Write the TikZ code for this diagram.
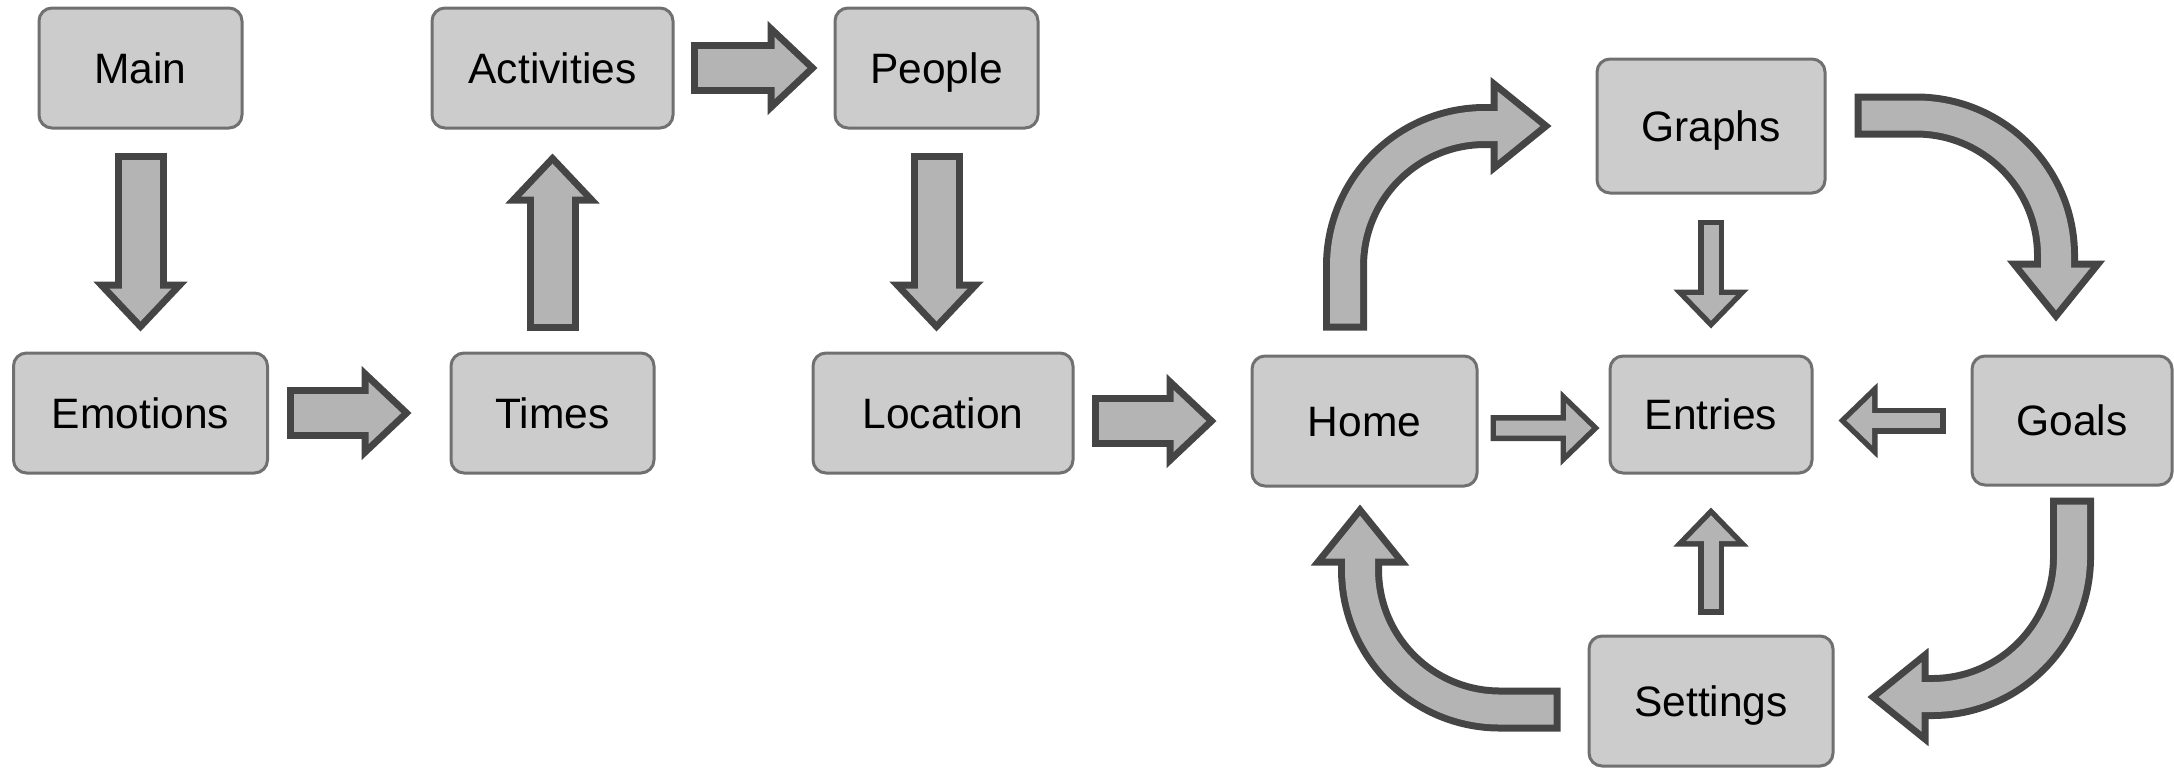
\documentclass[tikz,border=0pt]{standalone}
\usepackage{fontspec}
\setmainfont{Liberation Sans}
\usepackage{tikz}
\usetikzlibrary{arrows.meta}
\definecolor{boxfill}{HTML}{CCCCCC}
\definecolor{boxline}{HTML}{707070}
\definecolor{arrowfill}{HTML}{B4B4B4}
\definecolor{arrowedge}{HTML}{454545}

\begin{document}
\begin{tikzpicture}
[screen/.style={rectangle,rounded corners=1.3mm,draw=boxline,fill=boxfill,line width=0.3mm,
   inner sep=0pt,text height=3.05mm,text depth=0pt,font=\fontsize{12.1}{14}\selectfont},
 fat/.style={draw=arrowfill,line width=3.8mm,shorten <=0.7mm,shorten >=1.02mm,
   -{Triangle[length=3.28mm,width=6.16mm,line width=0.6pt]},
   preaction={draw=arrowedge,line width=5.2mm,shorten <=0pt,shorten >=0pt,
   -{Triangle[length=5mm,width=9.4mm,line width=0.6pt]}}},
 slim/.style={draw=arrowfill,line width=1.5mm,shorten <=0.55mm,shorten >=0.79mm,
   -{Triangle[length=2.56mm,width=4.92mm,line width=0.6pt]},
   preaction={draw=arrowedge,line width=2.6mm,shorten <=0pt,shorten >=0pt,
   -{Triangle[length=3.9mm,width=7.5mm,line width=0.6pt]}}},
 bent/.style={draw=arrowfill,line width=3mm,rounded corners=14mm,shorten <=0.7mm,shorten >=1.12mm,
   -{Triangle[length=4.28mm,width=6.88mm,line width=0.6pt]},
   preaction={draw=arrowedge,line width=4.4mm,shorten <=0pt,shorten >=0pt,
   -{Triangle[length=6.1mm,width=9.8mm,line width=0.6pt]}}}]
\useasboundingbox (0,0) rectangle (21.74,-7.67);
% left chain
\node[screen,minimum width=20.3mm,minimum height=12mm] (main)       at (1.405,-0.68) {Main};
\node[screen,minimum width=25.4mm,minimum height=12mm] (emotions)   at (1.405,-4.13) {Emotions};
\node[screen,minimum width=20.3mm,minimum height=12mm] (times)      at (5.525,-4.13) {Times};
\node[screen,minimum width=24.1mm,minimum height=12mm] (activities) at (5.525,-0.68) {Activities};
\node[screen,minimum width=20.3mm,minimum height=12mm] (people)     at (9.365,-0.68) {People};
\node[screen,minimum width=26mm,minimum height=12mm]   (location)   at (9.43,-4.13)  {Location};
% cycle
\node[screen,minimum width=22.5mm,minimum height=13mm]   (home)     at (13.645,-4.21) {Home};
\node[screen,minimum width=22.8mm,minimum height=13.4mm] (graphs)   at (17.11,-1.26)  {Graphs};
\node[screen,minimum width=20.2mm,minimum height=11.7mm] (entries)  at (17.11,-4.145) {Entries};
\node[screen,minimum width=20mm,minimum height=12.9mm]   (goals)    at (20.72,-4.205) {Goals};
\node[screen,minimum width=24.4mm,minimum height=13mm]   (settings) at (17.11,-7.01)  {Settings};

\draw[fat] ([yshift=-2.3mm]main.south) -- ([yshift=2mm]emotions.north);
\draw[fat] ([xshift=1.8mm]emotions.east) -- ([xshift=-3.8mm]times.west);
\draw[fat] ([yshift=2.1mm]times.north) -- ([yshift=-2.4mm]activities.south);
\draw[fat] ([xshift=1.6mm]activities.east) -- ([xshift=-1.6mm]people.west);
\draw[fat] ([yshift=-2.3mm]people.south) -- ([yshift=2mm]location.north -| people.south);
\draw[fat] ([xshift=1.7mm]location.east |- home.west) -- ([xshift=-3.4mm]home.west);

\draw[slim] ([xshift=1.2mm,yshift=-0.7mm]home.east) -- ([xshift=-0.9mm,yshift=-1.35mm]entries.west);
\draw[slim] ([xshift=-2.5mm]goals.west) -- ([xshift=2.5mm]entries.east |- goals.west);
\draw[slim] ([yshift=-2.5mm]graphs.south) -- ([yshift=2.6mm]entries.north);
\draw[slim] ([yshift=2mm]settings.north) -- ([yshift=-3.3mm]entries.south);

\draw[bent] ([xshift=-1.95mm,yshift=2.4mm]home.north) |- ([xshift=-4.4mm]graphs.west);
\draw[bent] ([xshift=2.8mm,yshift=1.05mm]graphs.east) -| ([xshift=-1.6mm,yshift=3.3mm]goals.north);
\draw[bent] ([yshift=-1.1mm]goals.south) |- ([xshift=3.3mm,yshift=0.4mm]settings.east);
\draw[bent] ([xshift=-2.7mm,yshift=-0.85mm]settings.west) -| ([xshift=-0.45mm,yshift=-1.7mm]home.south);
\end{tikzpicture}
\end{document}
